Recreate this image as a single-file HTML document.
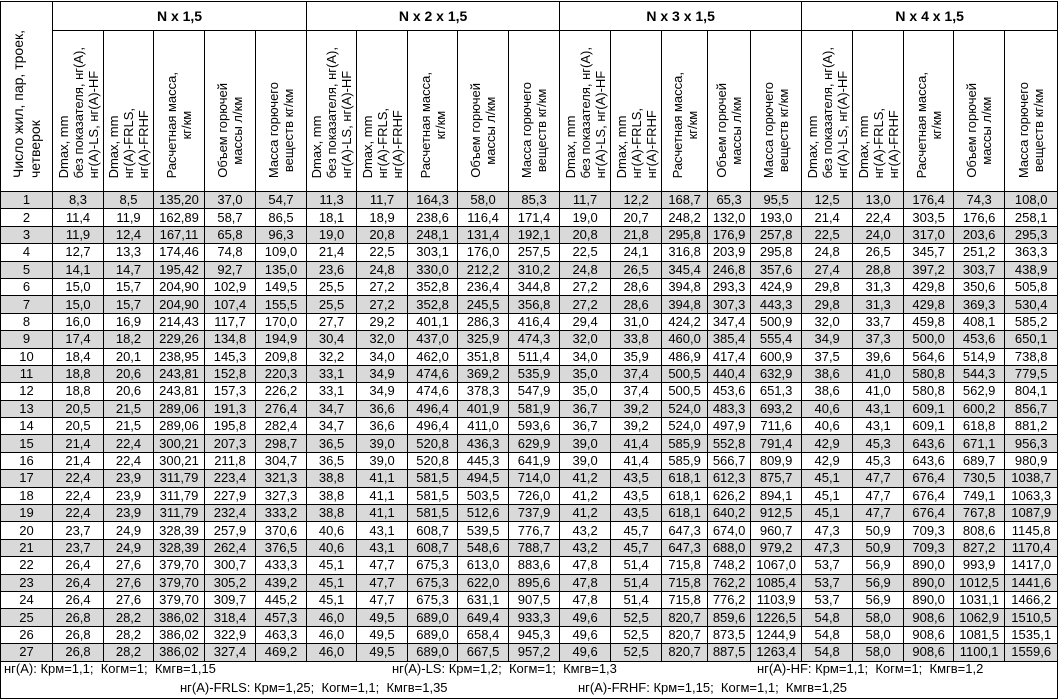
<!DOCTYPE html>
<html><head><meta charset="utf-8">
<style>
html,body{margin:0;padding:0;background:#fff;}
body{width:1059px;height:699px;overflow:hidden;font-family:"Liberation Sans",Arial,sans-serif;color:#000;}
table{position:absolute;left:0;top:1px;border-collapse:collapse;table-layout:fixed;width:1057px;}
td{border:1px solid #000;padding:0;text-align:center;font-size:13px;line-height:14px;height:16.4px;overflow:hidden;white-space:nowrap;}
tr.g td{background:#d9d9d9;}
td.h1{height:28px;font-weight:bold;font-size:14px;}
td.v{height:150px;vertical-align:bottom;padding-bottom:10px;}
.vt{writing-mode:vertical-rl;transform:rotate(180deg);font-size:13px;line-height:15px;white-space:nowrap;display:inline-block;text-align:left;}
.vc{text-align:center;}
.foot{position:absolute;font-size:13px;white-space:pre;}
</style></head><body>
<table>
<colgroup><col style="width:52px"><col style="width:51px"><col style="width:50px"><col style="width:51px"><col style="width:51px"><col style="width:51px"><col style="width:50px"><col style="width:51px"><col style="width:50px"><col style="width:51px"><col style="width:51px"><col style="width:51px"><col style="width:51px"><col style="width:46px"><col style="width:43px"><col style="width:51px"><col style="width:51px"><col style="width:51px"><col style="width:50px"><col style="width:51px"><col style="width:53px"></colgroup>
<tr><td rowspan="2" style="vertical-align:bottom;padding-bottom:10px"><span class="vt" style="font-size:14px;line-height:17px">Число жил, пар, троек,<br>четверок</span></td><td colspan="5" class="h1">N x 1,5</td><td colspan="5" class="h1">N x 2 x 1,5</td><td colspan="5" class="h1">N x 3 x 1,5</td><td colspan="5" class="h1">N x 4 x 1,5</td></tr>
<tr>
<td class="v"><span class="vt">Dmax, mm<br>без показателя, нг(А),<br>нг(А)-LS, нг(А)-HF</span></td><td class="v"><span class="vt">Dmax, mm<br>нг(А)-FRLS,<br>нг(А)-FRHF</span></td><td class="v"><span class="vt vc">Расчетная масса,<br>кг/км</span></td><td class="v"><span class="vt vc">Объем горючей<br>массы л/км</span></td><td class="v"><span class="vt vc">Масса горючего<br>веществ кг/км</span></td>
<td class="v"><span class="vt">Dmax, mm<br>без показателя, нг(А),<br>нг(А)-LS, нг(А)-HF</span></td><td class="v"><span class="vt">Dmax, mm<br>нг(А)-FRLS,<br>нг(А)-FRHF</span></td><td class="v"><span class="vt vc">Расчетная масса,<br>кг/км</span></td><td class="v"><span class="vt vc">Объем горючей<br>массы л/км</span></td><td class="v"><span class="vt vc">Масса горючего<br>веществ кг/км</span></td>
<td class="v"><span class="vt">Dmax, mm<br>без показателя, нг(А),<br>нг(А)-LS, нг(А)-HF</span></td><td class="v"><span class="vt">Dmax, mm<br>нг(А)-FRLS,<br>нг(А)-FRHF</span></td><td class="v"><span class="vt vc">Расчетная масса,<br>кг/км</span></td><td class="v"><span class="vt vc">Объем горючей<br>массы л/км</span></td><td class="v"><span class="vt vc">Масса горючего<br>веществ кг/км</span></td>
<td class="v"><span class="vt">Dmax, mm<br>без показателя, нг(А),<br>нг(А)-LS, нг(А)-HF</span></td><td class="v"><span class="vt">Dmax, mm<br>нг(А)-FRLS,<br>нг(А)-FRHF</span></td><td class="v"><span class="vt vc">Расчетная масса,<br>кг/км</span></td><td class="v"><span class="vt vc">Объем горючей<br>массы л/км</span></td><td class="v"><span class="vt vc">Масса горючего<br>веществ кг/км</span></td>
</tr>
<tr class="g"><td>1<td>8,3<td>8,5<td>135,20<td>37,0<td>54,7<td>11,3<td>11,7<td>164,3<td>58,0<td>85,3<td>11,7<td>12,2<td>168,7<td>65,3<td>95,5<td>12,5<td>13,0<td>176,4<td>74,3<td>108,0</tr>
<tr><td>2<td>11,4<td>11,9<td>162,89<td>58,7<td>86,5<td>18,1<td>18,9<td>238,6<td>116,4<td>171,4<td>19,0<td>20,7<td>248,2<td>132,0<td>193,0<td>21,4<td>22,4<td>303,5<td>176,6<td>258,1</tr>
<tr class="g"><td>3<td>11,9<td>12,4<td>167,11<td>65,8<td>96,3<td>19,0<td>20,8<td>248,1<td>131,4<td>192,1<td>20,8<td>21,8<td>295,8<td>176,9<td>257,8<td>22,5<td>24,0<td>317,0<td>203,6<td>295,3</tr>
<tr><td>4<td>12,7<td>13,3<td>174,46<td>74,8<td>109,0<td>21,4<td>22,5<td>303,1<td>176,0<td>257,5<td>22,5<td>24,1<td>316,8<td>203,9<td>295,8<td>24,8<td>26,5<td>345,7<td>251,2<td>363,3</tr>
<tr class="g"><td>5<td>14,1<td>14,7<td>195,42<td>92,7<td>135,0<td>23,6<td>24,8<td>330,0<td>212,2<td>310,2<td>24,8<td>26,5<td>345,4<td>246,8<td>357,6<td>27,4<td>28,8<td>397,2<td>303,7<td>438,9</tr>
<tr><td>6<td>15,0<td>15,7<td>204,90<td>102,9<td>149,5<td>25,5<td>27,2<td>352,8<td>236,4<td>344,8<td>27,2<td>28,6<td>394,8<td>293,3<td>424,9<td>29,8<td>31,3<td>429,8<td>350,6<td>505,8</tr>
<tr class="g"><td>7<td>15,0<td>15,7<td>204,90<td>107,4<td>155,5<td>25,5<td>27,2<td>352,8<td>245,5<td>356,8<td>27,2<td>28,6<td>394,8<td>307,3<td>443,3<td>29,8<td>31,3<td>429,8<td>369,3<td>530,4</tr>
<tr><td>8<td>16,0<td>16,9<td>214,43<td>117,7<td>170,0<td>27,7<td>29,2<td>401,1<td>286,3<td>416,4<td>29,4<td>31,0<td>424,2<td>347,4<td>500,9<td>32,0<td>33,7<td>459,8<td>408,1<td>585,2</tr>
<tr class="g"><td>9<td>17,4<td>18,2<td>229,26<td>134,8<td>194,9<td>30,4<td>32,0<td>437,0<td>325,9<td>474,3<td>32,0<td>33,8<td>460,0<td>385,4<td>555,4<td>34,9<td>37,3<td>500,0<td>453,6<td>650,1</tr>
<tr><td>10<td>18,4<td>20,1<td>238,95<td>145,3<td>209,8<td>32,2<td>34,0<td>462,0<td>351,8<td>511,4<td>34,0<td>35,9<td>486,9<td>417,4<td>600,9<td>37,5<td>39,6<td>564,6<td>514,9<td>738,8</tr>
<tr class="g"><td>11<td>18,8<td>20,6<td>243,81<td>152,8<td>220,3<td>33,1<td>34,9<td>474,6<td>369,2<td>535,9<td>35,0<td>37,4<td>500,5<td>440,4<td>632,9<td>38,6<td>41,0<td>580,8<td>544,3<td>779,5</tr>
<tr><td>12<td>18,8<td>20,6<td>243,81<td>157,3<td>226,2<td>33,1<td>34,9<td>474,6<td>378,3<td>547,9<td>35,0<td>37,4<td>500,5<td>453,6<td>651,3<td>38,6<td>41,0<td>580,8<td>562,9<td>804,1</tr>
<tr class="g"><td>13<td>20,5<td>21,5<td>289,06<td>191,3<td>276,4<td>34,7<td>36,6<td>496,4<td>401,9<td>581,9<td>36,7<td>39,2<td>524,0<td>483,3<td>693,2<td>40,6<td>43,1<td>609,1<td>600,2<td>856,7</tr>
<tr><td>14<td>20,5<td>21,5<td>289,06<td>195,8<td>282,4<td>34,7<td>36,6<td>496,4<td>411,0<td>593,6<td>36,7<td>39,2<td>524,0<td>497,9<td>711,6<td>40,6<td>43,1<td>609,1<td>618,8<td>881,2</tr>
<tr class="g"><td>15<td>21,4<td>22,4<td>300,21<td>207,3<td>298,7<td>36,5<td>39,0<td>520,8<td>436,3<td>629,9<td>39,0<td>41,4<td>585,9<td>552,8<td>791,4<td>42,9<td>45,3<td>643,6<td>671,1<td>956,3</tr>
<tr><td>16<td>21,4<td>22,4<td>300,21<td>211,8<td>304,7<td>36,5<td>39,0<td>520,8<td>445,3<td>641,9<td>39,0<td>41,4<td>585,9<td>566,7<td>809,9<td>42,9<td>45,3<td>643,6<td>689,7<td>980,9</tr>
<tr class="g"><td>17<td>22,4<td>23,9<td>311,79<td>223,4<td>321,3<td>38,8<td>41,1<td>581,5<td>494,5<td>714,0<td>41,2<td>43,5<td>618,1<td>612,3<td>875,7<td>45,1<td>47,7<td>676,4<td>730,5<td>1038,7</tr>
<tr><td>18<td>22,4<td>23,9<td>311,79<td>227,9<td>327,3<td>38,8<td>41,1<td>581,5<td>503,5<td>726,0<td>41,2<td>43,5<td>618,1<td>626,2<td>894,1<td>45,1<td>47,7<td>676,4<td>749,1<td>1063,3</tr>
<tr class="g"><td>19<td>22,4<td>23,9<td>311,79<td>232,4<td>333,2<td>38,8<td>41,1<td>581,5<td>512,6<td>737,9<td>41,2<td>43,5<td>618,1<td>640,2<td>912,5<td>45,1<td>47,7<td>676,4<td>767,8<td>1087,9</tr>
<tr><td>20<td>23,7<td>24,9<td>328,39<td>257,9<td>370,6<td>40,6<td>43,1<td>608,7<td>539,5<td>776,7<td>43,2<td>45,7<td>647,3<td>674,0<td>960,7<td>47,3<td>50,9<td>709,3<td>808,6<td>1145,8</tr>
<tr class="g"><td>21<td>23,7<td>24,9<td>328,39<td>262,4<td>376,5<td>40,6<td>43,1<td>608,7<td>548,6<td>788,7<td>43,2<td>45,7<td>647,3<td>688,0<td>979,2<td>47,3<td>50,9<td>709,3<td>827,2<td>1170,4</tr>
<tr><td>22<td>26,4<td>27,6<td>379,70<td>300,7<td>433,3<td>45,1<td>47,7<td>675,3<td>613,0<td>883,6<td>47,8<td>51,4<td>715,8<td>748,2<td>1067,0<td>53,7<td>56,9<td>890,0<td>993,9<td>1417,0</tr>
<tr class="g"><td>23<td>26,4<td>27,6<td>379,70<td>305,2<td>439,2<td>45,1<td>47,7<td>675,3<td>622,0<td>895,6<td>47,8<td>51,4<td>715,8<td>762,2<td>1085,4<td>53,7<td>56,9<td>890,0<td>1012,5<td>1441,6</tr>
<tr><td>24<td>26,4<td>27,6<td>379,70<td>309,7<td>445,2<td>45,1<td>47,7<td>675,3<td>631,1<td>907,5<td>47,8<td>51,4<td>715,8<td>776,2<td>1103,9<td>53,7<td>56,9<td>890,0<td>1031,1<td>1466,2</tr>
<tr class="g"><td>25<td>26,8<td>28,2<td>386,02<td>318,4<td>457,3<td>46,0<td>49,5<td>689,0<td>649,4<td>933,3<td>49,6<td>52,5<td>820,7<td>859,6<td>1226,5<td>54,8<td>58,0<td>908,6<td>1062,9<td>1510,5</tr>
<tr><td>26<td>26,8<td>28,2<td>386,02<td>322,9<td>463,3<td>46,0<td>49,5<td>689,0<td>658,4<td>945,3<td>49,6<td>52,5<td>820,7<td>873,5<td>1244,9<td>54,8<td>58,0<td>908,6<td>1081,5<td>1535,1</tr>
<tr class="g"><td>27<td>26,8<td>28,2<td>386,02<td>327,4<td>469,2<td>46,0<td>49,5<td>689,0<td>667,5<td>957,2<td>49,6<td>52,5<td>820,7<td>887,5<td>1263,4<td>54,8<td>58,0<td>908,6<td>1100,1<td>1559,6</tr>
<tr><td colspan="21" style="height:36px"></td></tr>
</table>
<div class="foot" style="left:4px;top:661px">нг(А): Крм=1,1;  Когм=1;  Кмгв=1,15</div>
<div class="foot" style="left:392px;top:661px">нг(А)-LS: Крм=1,2;  Когм=1;  Кмгв=1,3</div>
<div class="foot" style="left:757px;top:661px">нг(А)-HF: Крм=1,1;  Когм=1;  Кмгв=1,2</div>
<div class="foot" style="left:180px;top:680px">нг(А)-FRLS: Крм=1,25;  Когм=1,1;  Кмгв=1,35</div>
<div class="foot" style="left:578px;top:680px">нг(А)-FRHF: Крм=1,15;  Когм=1,1;  Кмгв=1,25</div>
</body></html>
